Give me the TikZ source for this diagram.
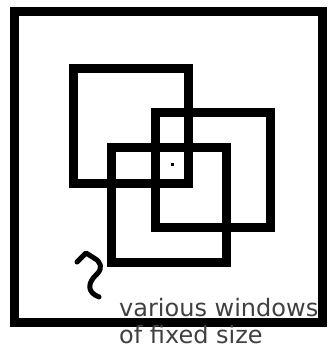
\documentclass[tikz,border=0pt]{standalone}
\usepackage{fontspec}
\setmainfont{DejaVu Sans}
\usetikzlibrary{positioning}

\begin{document}
\begin{tikzpicture}[
  x=1pt, y=-1pt,
  frame/.style={draw, line width=9pt, inner sep=0pt},
  win/.style={frame, minimum width=115pt, minimum height=115pt},
  note/.style={font=\fontsize{24}{28}\selectfont, text=black!75, inner sep=0pt, anchor=base west},
  hand/.style={line width=5pt, line cap=round, line join=round}
]
\useasboundingbox (0,0) rectangle (327,350);

\node[frame, minimum width=308pt, minimum height=310pt] (image) at (168,167) {};

\node[win] (win1) at (130.5,126) {};
\node[win] (win2) at (212.5,169.5) {};
\node[win] (win3) at (168.5,205) {};

\node[fill, minimum size=3pt, inner sep=0pt] (pixel) at (172,164) {};

\node[note] (line1) at (119,316) {various windows};
\node[note] (line2) at (119,343) {of fixed size};

% hand drawn pointer
\coordinate (tail) at (99,297);
\coordinate (tip) at (86,253);
\draw[hand] (77,262) -- (tip) -- (94,258) .. controls (101,262) and (103,268) .. (97,274)
  .. controls (88,282) and (86,292) .. (tail);

\end{tikzpicture}
\end{document}
